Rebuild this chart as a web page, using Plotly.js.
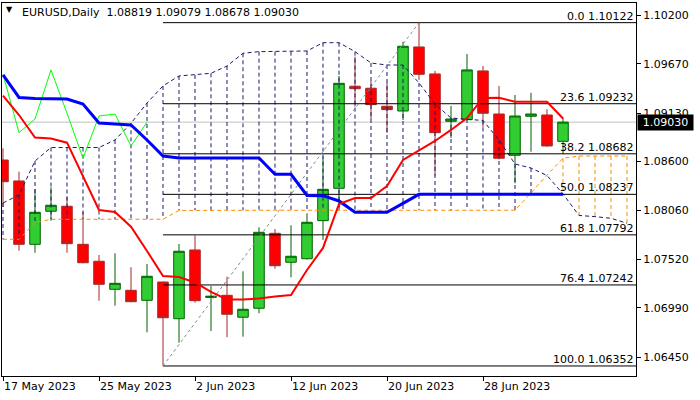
<!DOCTYPE html>
<html><head><meta charset="utf-8">
<script src="https://cdn.plot.ly/plotly-3.0.1.min.js"></script>
<style>html,body{margin:0;padding:0;background:#fff}#chart{width:700px;height:400px}</style>
</head><body><div id="chart"></div>
<script>
const symbol = 'EURUSD';
const timeframe = 'Daily';
const dates = ['2023-05-17','2023-05-18','2023-05-19','2023-05-22','2023-05-23','2023-05-24','2023-05-25','2023-05-26','2023-05-29','2023-05-30',
 '2023-05-31','2023-06-01','2023-06-02','2023-06-05','2023-06-06','2023-06-07','2023-06-08','2023-06-09','2023-06-12','2023-06-13',
 '2023-06-14','2023-06-15','2023-06-16','2023-06-19','2023-06-20','2023-06-21','2023-06-22','2023-06-23','2023-06-26','2023-06-27',
 '2023-06-28','2023-06-29','2023-06-30','2023-07-03','2023-07-04','2023-07-05','2023-07-06','2023-07-07','2023-07-10','2023-07-11','2023-07-12'];
const open  = [1.08614,1.08384,1.07688,1.08051,1.08106,1.07688,1.07502,1.07194,1.07183,1.07073,1.07274,1.06871,1.07626,1.07105,1.07128,1.06887,1.06986,1.07809,1.07491,1.07530,1.07948,1.08303,1.09424,1.09402,1.09204,1.09152,1.09855,1.09559,1.09039,1.09057,1.09592,1.09119,1.08666,1.09094,1.09108,1.08819];
const high  = [1.08743,1.08486,1.08292,1.08314,1.08211,1.08043,1.07571,1.07590,1.07436,1.07472,1.07280,1.07692,1.07787,1.07230,1.07333,1.07392,1.07875,1.07856,1.07897,1.08029,1.08650,1.09537,1.09749,1.09482,1.09463,1.09913,1.10122,1.09592,1.09207,1.09778,1.09646,1.09427,1.09328,1.09353,1.09171,1.09079];
const low   = [1.08098,1.07618,1.07596,1.07948,1.07596,1.07480,1.07069,1.07014,1.07052,1.06722,1.06352,1.06608,1.07047,1.06736,1.06667,1.06674,1.06931,1.07420,1.07326,1.07520,1.07736,1.08065,1.09200,1.09061,1.08914,1.09053,1.09493,1.08442,1.08856,1.09050,1.08973,1.08620,1.08358,1.08705,1.08760,1.08678];
const close = [1.08376,1.07688,1.08040,1.08117,1.07695,1.07486,1.07249,1.07260,1.07058,1.07337,1.06882,1.07612,1.07069,1.07118,1.06920,1.06975,1.07820,1.07453,1.07557,1.07930,1.08292,1.09456,1.09397,1.09222,1.09167,1.09863,1.09555,1.08914,1.09064,1.09603,1.09127,1.08633,1.09097,1.09119,1.08768,1.09030];
const tenkan = [1.09320,1.09108,1.08861,1.08850,1.08804,1.08438,1.08065,1.08043,1.07882,1.07615,1.07340,1.07329,1.07269,1.07165,1.07082,1.07082,1.07093,1.07115,1.07132,1.07406,1.07648,1.08131,1.08197,1.08197,1.08329,1.08614,1.08719,1.08823,1.08944,1.09075,1.09295,1.09298,1.09254,1.09254,1.09254,1.09070];
const kijun = [1.09548,1.09301,1.09290,1.09287,1.09284,1.09229,1.09021,1.09010,1.08999,1.08834,1.08658,1.08636,1.08636,1.08636,1.08636,1.08636,1.08636,1.08457,1.08457,1.08224,1.08222,1.08164,1.08040,1.08040,1.08040,1.08138,1.08237,1.08237,1.08237,1.08237,1.08237,1.08237,1.08237,1.08237,1.08237,1.08237];
const chikou = [1.09555,1.08914,1.09064,1.09603,1.09127,1.08633,1.09097,1.09119,1.08768,1.09030];
const spanA = [1.08142,1.08230,1.08603,1.08751,1.08751,1.08751,1.08751,1.08834,1.09017,1.09240,1.09427,1.09537,1.09548,1.09566,1.09646,1.09786,1.09804,1.09804,1.09804,1.09811,1.09902,1.09902,1.09804,1.09679,1.09657,1.09657,1.09460,1.09229,1.09075,1.09064,1.09048,1.08834,1.08570,1.08526,1.08444,1.08241,1.08005,1.07992,1.07974,1.07919];
const spanB = [1.07743,1.07743,1.07928,1.07963,1.07963,1.07963,1.07963,1.07963,1.07963,1.07963,1.07963,1.08060,1.08062,1.08062,1.08062,1.08062,1.08062,1.08062,1.08062,1.08062,1.08062,1.08062,1.08062,1.08062,1.08062,1.08062,1.08062,1.08062,1.08062,1.08062,1.08062,1.08062,1.08062,1.08252,1.08449,1.08633,1.08658,1.08658,1.08658,1.08658];
const fibLevels = ['0.0','23.6','38.2','50.0','61.8','76.4','100.0'];
const fibPrices = [1.10122,1.09232,1.08682,1.08237,1.07792,1.07242,1.06352];
const fibLowDate = '2023-05-31';
const fibHighDate = '2023-06-22';
const xTickDates = ['2023-05-17','2023-05-25','2023-06-02','2023-06-12','2023-06-20','2023-06-28'];
const xTickLabels = ['17 May 2023','25 May 2023','2 Jun 2023','12 Jun 2023','20 Jun 2023','28 Jun 2023'];
const yTicks = [1.06450,1.06990,1.07520,1.08060,1.08600,1.09130,1.09670,1.10200];

const F = 'DejaVu Sans';
const n = close.length;
const candleDates = dates.slice(0, n);
const last = n - 1;

// cloud verticals
const navyX = [], navyY = [], orX = [], orY = [];
for (let i = 0; i < spanA.length; i++) {
  if (spanA[i] >= spanB[i]) { navyX.push(dates[i], dates[i], null); navyY.push(spanA[i], spanB[i], null); }
  else { orX.push(dates[i], dates[i], null); orY.push(spanB[i], spanA[i], null); }
}
const fibX = [], fibY = [];
fibPrices.forEach(p => { fibX.push(fibLowDate, dates[dates.length - 1], null); fibY.push(p, p, null); });

const traces = [
  {type:'scatter', mode:'lines', x:navyX, y:navyY, line:{color:'#1a1a6e', width:1, dash:'4px,3px'}, hoverinfo:'skip'},
  {type:'scatter', mode:'lines', x:orX, y:orY, line:{color:'#ff8c00', width:1, dash:'4px,3px'}, hoverinfo:'skip'},
  {type:'scatter', mode:'lines', x:dates.slice(0, spanA.length), y:spanA, line:{color:'#1a1a6e', width:1, dash:'4px,3px'}},
  {type:'scatter', mode:'lines', x:dates.slice(0, spanB.length), y:spanB, line:{color:'#ff8c00', width:1, dash:'4px,3px'}},
  {type:'scatter', mode:'lines', x:fibX, y:fibY, line:{color:'#000000', width:1}},
  {type:'scatter', mode:'lines', x:[fibLowDate, fibHighDate], y:[fibPrices[6], fibPrices[0]], line:{color:'#7a8a9a', width:1, dash:'3px,3px'}},
  {type:'candlestick', x:candleDates, open:open, high:high, low:low, close:close, whiskerwidth:0,
    increasing:{fillcolor:'#32cd32', line:{color:'#006400', width:1}},
    decreasing:{fillcolor:'#ff0000', line:{color:'#a52a2a', width:1}}},
  {type:'scatter', mode:'lines', x:dates.slice(0, chikou.length), y:chikou, line:{color:'#00ff00', width:1}},
  {type:'scatter', mode:'lines', x:candleDates, y:kijun, line:{color:'#0000ff', width:3}},
  {type:'scatter', mode:'lines', x:candleDates, y:tenkan, line:{color:'#ff0000', width:2}}
];

const annotations = fibLevels.map((lv, i) => ({
  xref:'paper', yref:'y', x:1, y:fibPrices[i], xanchor:'right', yanchor:'bottom', xshift:-1, yshift:-2,
  text: lv + ' ' + fibPrices[i].toFixed(5), showarrow:false, font:{family:F, size:11, color:'#000'}
}));
annotations.push({xref:'paper', yref:'y', x:1, y:close[last], xanchor:'left', yanchor:'middle', xshift:1,
  text: close[last].toFixed(5), showarrow:false, bgcolor:'#000000', borderpad:1, width:53,
  font:{family:F, size:11, color:'#ffffff'}});
annotations.push({xref:'paper', yref:'paper', x:0, y:1, xanchor:'left', yanchor:'top', xshift:18, yshift:-1,
  text: symbol + ',' + timeframe + '\u00a0\u00a0' + [open[last], high[last], low[last], close[last]].map(v => v.toFixed(5)).join(' '),
  showarrow:false, font:{family:F, size:11, color:'#000'}});
annotations.push({xref:'paper', yref:'paper', x:0, y:1, xanchor:'left', yanchor:'top', xshift:2, yshift:0,
  text:'\u25BC', showarrow:false, font:{family:F, size:8, color:'#000'}});

const layout = {
  width:700, height:400, margin:{l:2, r:64, t:3, b:24},
  paper_bgcolor:'#ffffff', plot_bgcolor:'#ffffff', showlegend:false,
  boxgap:0.34, boxgroupgap:0,
  font:{family:F, size:11, color:'#000'},
  xaxis:{type:'category', categoryorder:'array', categoryarray:dates, range:[-0.0625, 39.5625],
    rangeslider:{visible:false}, showgrid:false, zeroline:false, showline:true, mirror:true, linecolor:'#000', linewidth:1,
    ticks:'outside', ticklen:4, tickcolor:'#000', tickvals:xTickDates, ticktext:xTickLabels,
    ticklabelposition:'outside right', tickfont:{family:F, size:11, color:'#000'}},
  yaxis:{side:'right', range:[1.06242, 1.10338], showgrid:false, zeroline:false, showline:true, mirror:true,
    linecolor:'#000', linewidth:1, ticks:'outside', ticklen:4, tickcolor:'#000', tickvals:yTicks,
    ticktext:yTicks.map(v => v.toFixed(5)), tickfont:{family:F, size:11, color:'#000'}},
  shapes:[{type:'line', xref:'paper', yref:'y', x0:0, x1:1, y0:close[last], y1:close[last], layer:'below',
    line:{color:'#c0c0c0', width:1}}],
  annotations:annotations
};
Plotly.newPlot('chart', traces, layout, {displayModeBar:false, staticPlot:true});
</script></body></html>
